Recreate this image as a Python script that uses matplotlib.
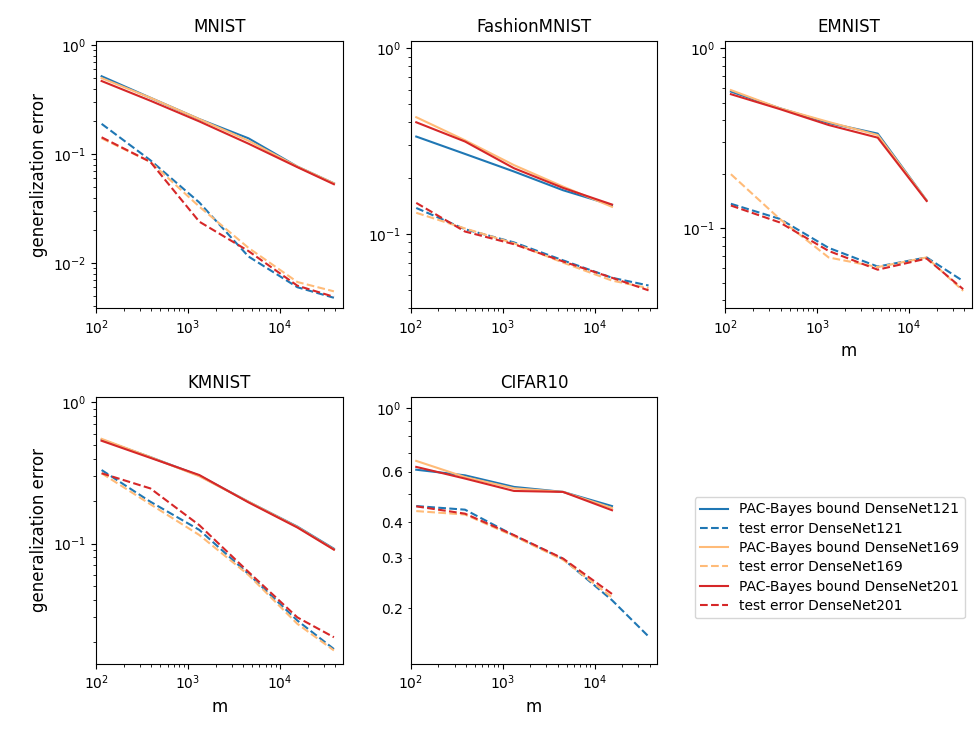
import matplotlib
matplotlib.use("Agg")
from matplotlib import pyplot as plt
from matplotlib.ticker import FuncFormatter

# training set sizes
m = [115, 390, 1330, 4550, 15500, 38700]

nets = ["DenseNet121", "DenseNet169", "DenseNet201"]
colors = ["#1f77b4", "#ffbb78", "#d62728"]

# values read per net, order 121, 169, 201
mnist_bound = [[0.52, 0.33, 0.21, 0.14, 0.077, 0.054],
               [0.50, 0.33, 0.21, 0.133, 0.077, 0.054],
               [0.47, 0.31, 0.20, 0.125, 0.076, 0.053]]
mnist_test = [[0.19, 0.088, 0.036, 0.0115, 0.006, 0.0048],
              [0.14, 0.085, 0.033, 0.0138, 0.0067, 0.0055],
              [0.143, 0.085, 0.024, 0.0129, 0.0062, 0.0049]]

fashion_bound = [[0.335, 0.27, 0.217, 0.172, 0.143],
                 [0.426, 0.32, 0.235, 0.18, 0.14],
                 [0.40, 0.315, 0.226, 0.177, 0.144]]
fashion_test = [[0.138, 0.106, 0.09, 0.072, 0.058, 0.0527],
                [0.13, 0.107, 0.089, 0.07, 0.056, 0.051],
                [0.147, 0.103, 0.088, 0.071, 0.058, 0.0496]]

emnist_bound = [[0.575, 0.465, 0.385, 0.336, 0.143],
                [0.586, 0.465, 0.39, 0.33, 0.143],
                [0.556, 0.46, 0.375, 0.319, 0.142]]
emnist_test = [[0.137, 0.113, 0.078, 0.0614, 0.069, 0.051],
               [0.20, 0.113, 0.069, 0.061, 0.069, 0.045],
               [0.134, 0.108, 0.075, 0.059, 0.068, 0.046]]

kmnist_bound = [[0.545, 0.41, 0.303, 0.198, 0.132, 0.092],
                [0.552, 0.41, 0.30, 0.198, 0.131, 0.091],
                [0.535, 0.405, 0.306, 0.196, 0.13, 0.0906]]
kmnist_test = [[0.332, 0.198, 0.125, 0.061, 0.0285, 0.0179],
               [0.315, 0.19, 0.115, 0.06, 0.027, 0.0175],
               [0.315, 0.246, 0.135, 0.063, 0.030, 0.0217]]

cifar_bound = [[0.61, 0.583, 0.531, 0.51, 0.455],
               [0.655, 0.575, 0.525, 0.51, 0.448],
               [0.624, 0.568, 0.514, 0.51, 0.44]]
cifar_test = [[0.455, 0.442, 0.359, 0.297, 0.213, 0.159],
              [0.437, 0.425, 0.357, 0.295, 0.218],
              [0.454, 0.428, 0.36, 0.298, 0.224]]

titles = ["MNIST", "FashionMNIST", "EMNIST", "KMNIST", "CIFAR10"]
bounds = [mnist_bound, fashion_bound, emnist_bound, kmnist_bound, cifar_bound]
tests = [mnist_test, fashion_test, emnist_test, kmnist_test, cifar_test]

# minor tick labels shown on the CIFAR10 axis
cifar_minor_labels = [0.2, 0.3, 0.4, 0.6]


def minor_label(v, pos):
    for lab in cifar_minor_labels:
        if abs(v - lab) < 1e-6:
            return f"{lab:g}"
    return ""


fig, axes = plt.subplots(2, 3, figsize=(9.75, 7.29), dpi=100)
fig.subplots_adjust(left=0.0985, right=0.997, top=0.944, bottom=0.089,
                    wspace=0.275, hspace=0.33)
axes = axes.flatten()

for k, title in enumerate(titles):
    ax = axes[k]
    lowest = 1.0
    for i, net in enumerate(nets):
        b = bounds[k][i]
        t = tests[k][i]
        ax.plot(m[:len(b)], b, color=colors[i], linestyle="-",
                label="PAC-Bayes bound " + net)
        ax.plot(m[:len(t)], t, color=colors[i], linestyle="--",
                label="test error " + net)
        lowest = min(lowest, min(b), min(t))
    ax.set_xscale("log")
    ax.set_yscale("log")
    ax.set_xlim(100, 1.25 * max(m))
    ax.set_ylim(0.8 * lowest, 1.1)
    if title == "CIFAR10":
        ax.yaxis.set_minor_formatter(FuncFormatter(minor_label))
    ax.set_title(title, fontsize=12)
    if k in (0, 3):
        ax.set_ylabel("generalization error", fontsize=12)
    if k in (2, 3, 4):
        ax.set_xlabel("m", fontsize=12)

axes[5].axis("off")
handles, labels = axes[0].get_legend_handles_labels()
fig.legend(handles, labels, loc="center", bbox_to_anchor=(0.851, 0.235),
           fontsize=10, labelspacing=0.38)

plt.savefig("out.png", dpi=100)
